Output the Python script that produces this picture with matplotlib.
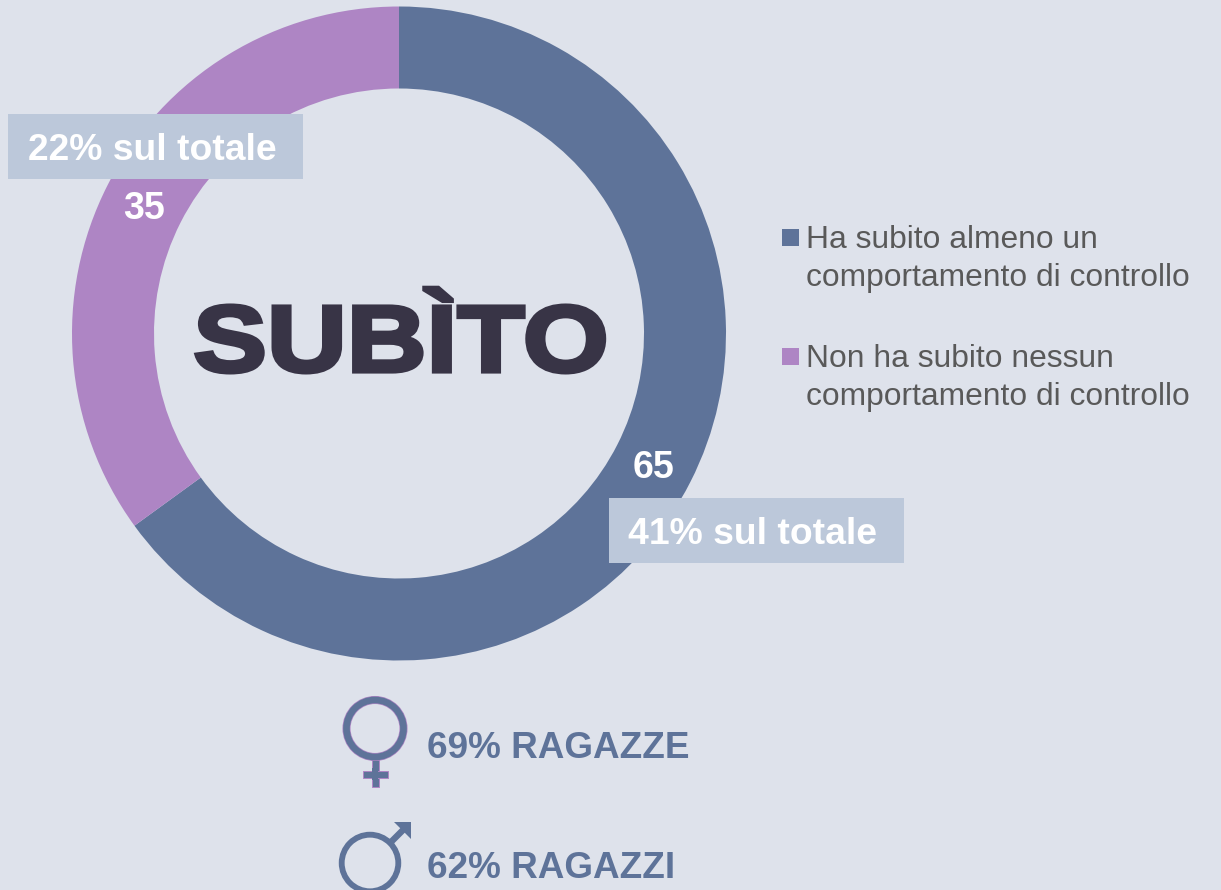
import matplotlib
matplotlib.use("Agg")
import matplotlib.pyplot as plt
from matplotlib.patches import Rectangle, Circle
from matplotlib.transforms import Affine2D
import matplotlib.patheffects as pe

plt.rcParams['font.family'] = ['Liberation Sans', 'DejaVu Sans']

W, H = 1221, 890
BG = "#dee2eb"
BLUE = "#5e7399"
PURPLE = "#ae85c4"
BOX = "#bcc8da"
DARK = "#383446"

# data
values = [65, 35]
value_labels = ["65", "35"]
colors = [BLUE, PURPLE]
legend_labels = ["Ha subito almeno un\ncomportamento di controllo",
                 "Non ha subito nessun\ncomportamento di controllo"]
total_labels = ["41% sul totale", "22% sul totale"]
gender_labels = ["69% RAGAZZE", "62% RAGAZZI"]


# the title is a wide heavy font, so widen the bold one and thicken it
class WideHeavy(pe.AbstractPathEffect):
    def __init__(self, sx, x0, lw):
        super().__init__()
        self.sx, self.x0, self.lw = sx, x0, lw

    def draw_path(self, renderer, gc, tpath, affine, rgbFace=None):
        wide = affine + Affine2D().translate(-self.x0, 0).scale(self.sx, 1).translate(self.x0, 0)
        gc0 = renderer.new_gc()
        gc0.copy_properties(gc)
        gc0.set_foreground(rgbFace)
        gc0.set_linewidth(self.lw)
        gc0.set_joinstyle("miter")
        renderer.draw_path(gc0, tpath, wide, rgbFace)
        gc0.restore()


fig = plt.figure(figsize=(W / 100, H / 100), dpi=100, facecolor=BG)

# donut in its own axes
cx, cy, r = 399, 333.5, 327
pie_ax = fig.add_axes([(cx - r) / W, 1 - (cy + r) / H, 2 * r / W, 2 * r / H])
pie_ax.pie(values, colors=colors, startangle=90, counterclock=False, radius=1,
           wedgeprops=dict(width=82 / 327, linewidth=0))
pie_ax.set_xlim(-1, 1)
pie_ax.set_ylim(-1, 1)

# overlay on top of the pie, pixel coords with y going down
top = fig.add_axes([0, 0, 1, 1], facecolor="none")
top.set_xlim(0, W)
top.set_ylim(H, 0)
top.axis("off")

top.text(653, 468, value_labels[0], color="white", fontsize=27, fontweight="bold", ha="center", va="center")
top.text(144, 209, value_labels[1], color="white", fontsize=27, fontweight="bold", ha="center", va="center")

top.add_patch(Rectangle((8, 114), 295, 65, color=BOX, lw=0))
top.add_patch(Rectangle((609, 498), 295, 65, color=BOX, lw=0))
top.text(152, 151, total_labels[1], color="white", fontsize=26.8, fontweight="bold", ha="center", va="center")
top.text(753, 535, total_labels[0], color="white", fontsize=26.8, fontweight="bold", ha="center", va="center")

title = top.text(401, 347, "SUBÌTO", color=DARK, fontsize=68, fontweight="bold", ha="center", va="center")
title.set_path_effects([WideHeavy(1.17, 401, 3)])

# legend
top.add_patch(Rectangle((782, 229), 17, 17, color=BLUE, lw=0))
top.add_patch(Rectangle((782, 348), 17, 17, color=PURPLE, lw=0))
top.text(806, 259, legend_labels[0], color="#595959", fontsize=22.9, ha="left", va="center", linespacing=1.31)
top.text(806, 378, legend_labels[1], color="#595959", fontsize=22.9, ha="left", va="center", linespacing=1.31)

# female symbol
top.add_patch(Rectangle((371.5, 760), 7, 27, fc=BLUE, ec=PURPLE, lw=0.7))
top.add_patch(Rectangle((362.5, 770.5), 25, 7, fc=BLUE, ec=PURPLE, lw=0.7))
top.add_patch(Rectangle((372, 768), 6, 12, fc=BLUE, lw=0))
top.add_patch(Circle((375, 728.5), 28.5, fill=False, ec=PURPLE, lw=5.8))
top.add_patch(Circle((375, 728.5), 28.5, fill=False, ec=BLUE, lw=4.8))

# male symbol
top.add_patch(Circle((370, 863), 28.3, fill=False, ec=BLUE, lw=4.2))
top.plot([390, 404], [843, 829], color=BLUE, lw=4.6, solid_capstyle="butt")
top.fill([394, 411, 411], [822, 822, 839], color=BLUE, lw=0)

top.text(427, 749, gender_labels[0], color=BLUE, fontsize=26.6, fontweight="bold", ha="left", va="center")
top.text(427, 869, gender_labels[1], color=BLUE, fontsize=26.6, fontweight="bold", ha="left", va="center")

fig.savefig("out.png", dpi=100, facecolor=BG)
